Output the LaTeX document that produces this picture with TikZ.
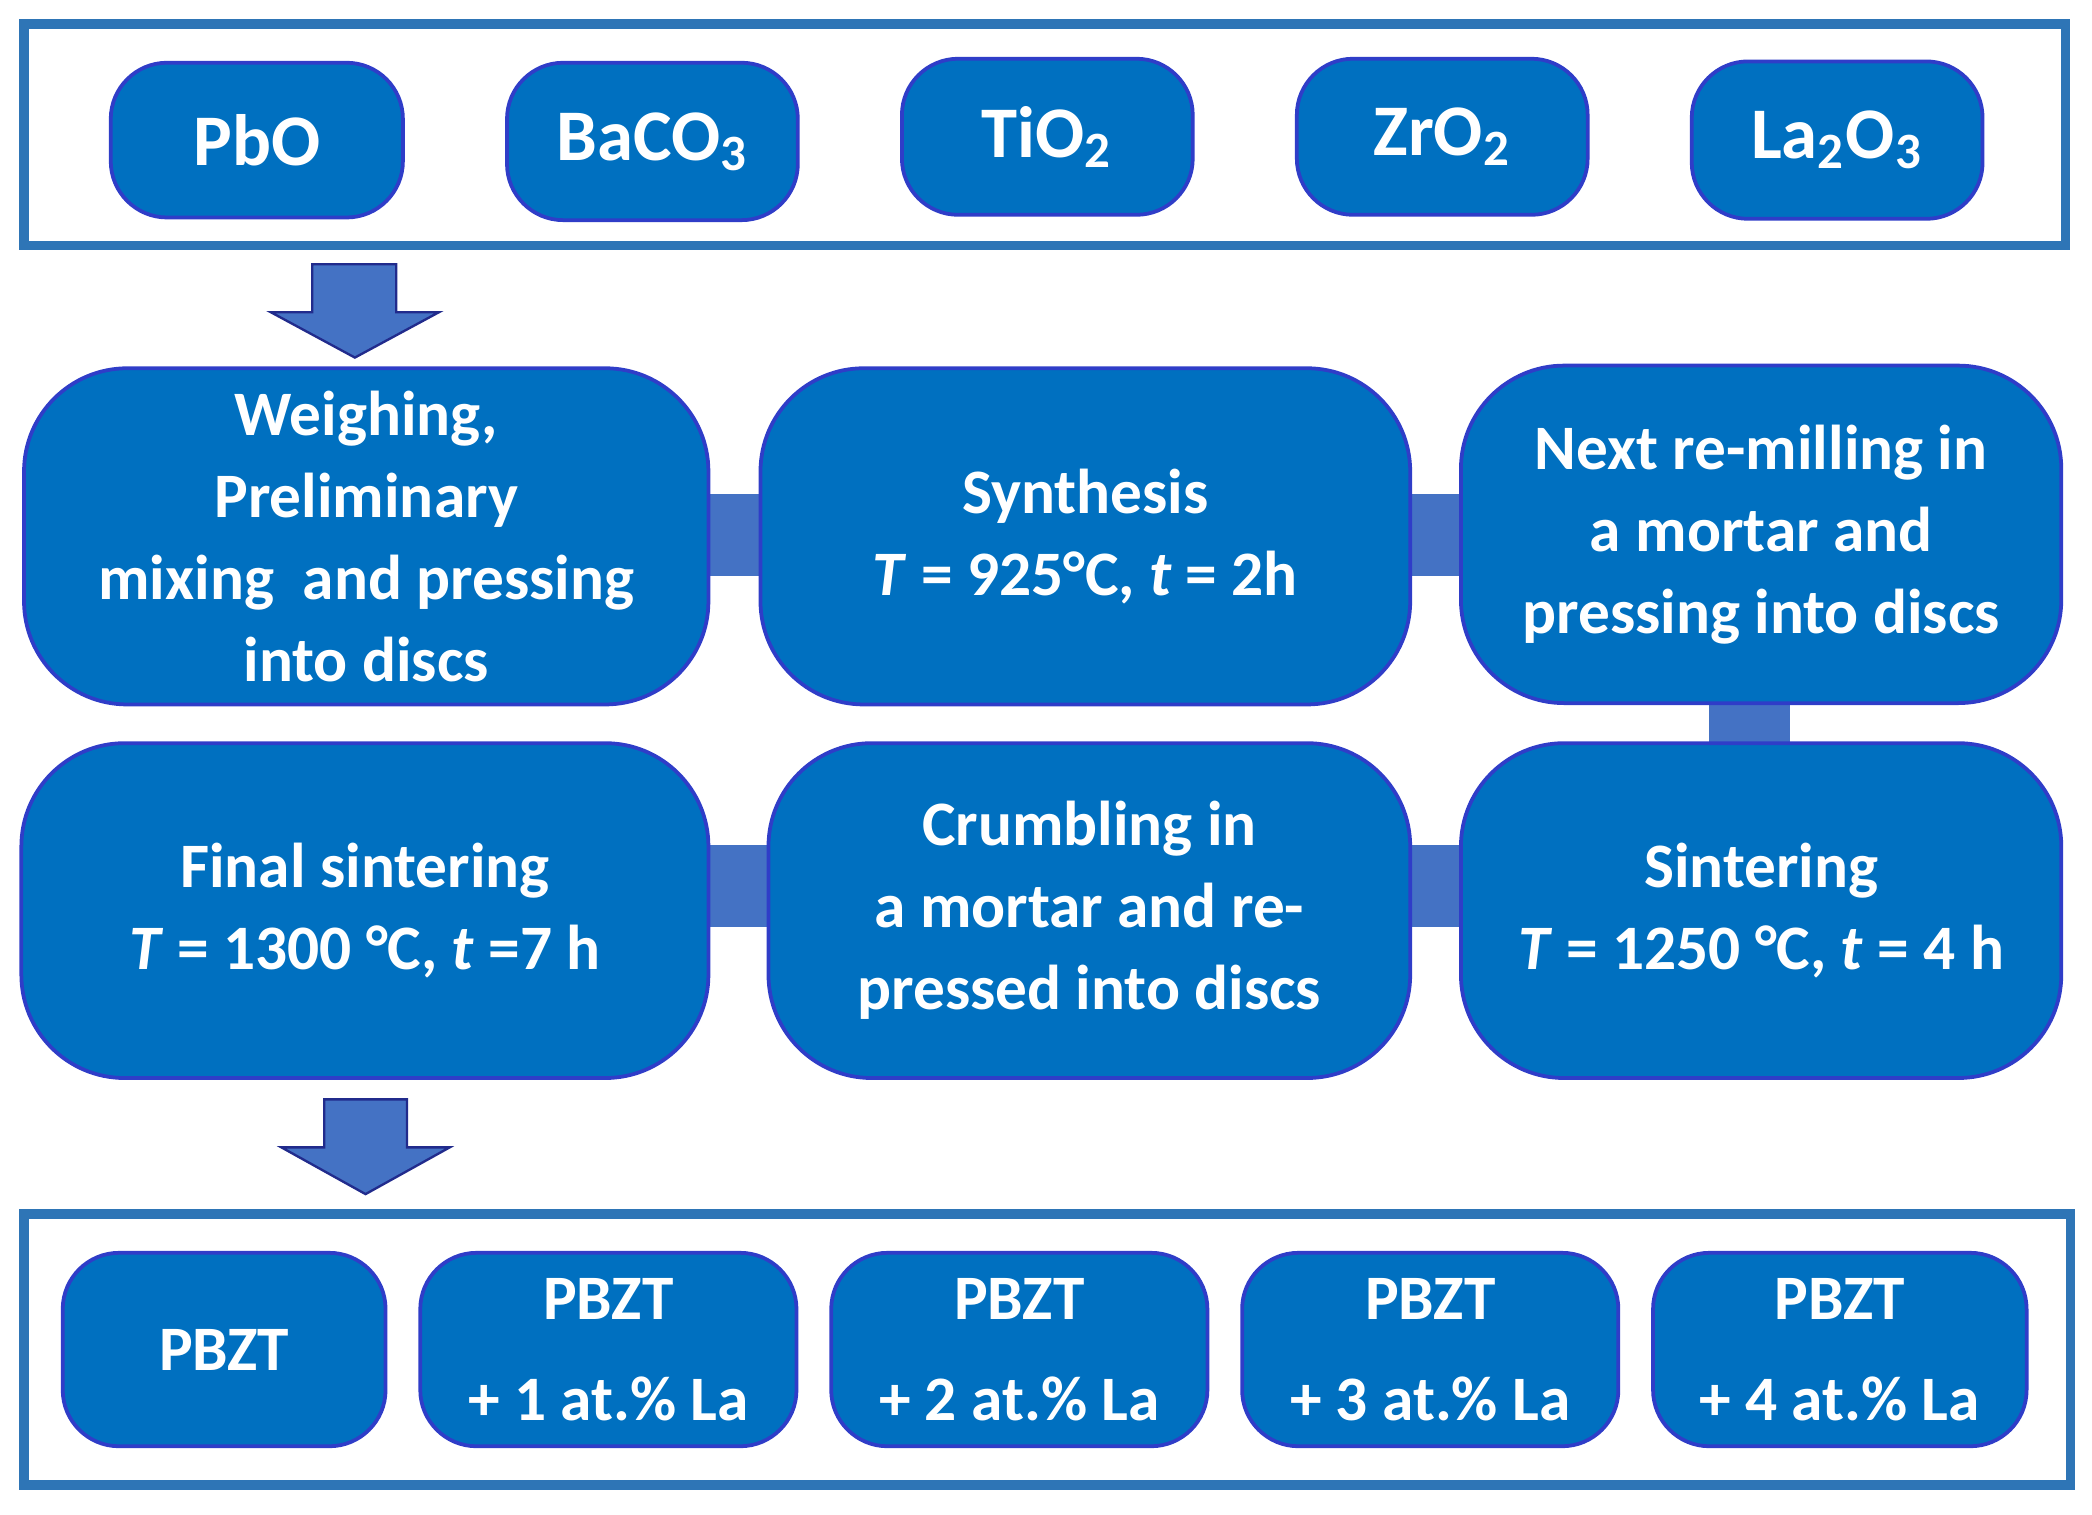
\documentclass[tikz,border=0pt]{standalone}
\usepackage{fontspec}
\setmainfont{Carlito}
\definecolor{boxblue}{HTML}{0070C0}
\definecolor{edgeblue}{HTML}{2F3DC8}
\definecolor{barblue}{HTML}{4472C4}
\definecolor{frameblue}{HTML}{2E75B6}
\begin{document}
\begin{tikzpicture}[x=0.01cm,y=-0.01cm,
  bx/.style={draw=edgeblue,line width=0.8pt,fill=boxblue,rounded corners=22pt,text=white,font=\bfseries\fontsize{13.5}{17.5}\selectfont,align=center,inner sep=0pt},
  sbx/.style={draw=edgeblue,line width=0.8pt,fill=boxblue,rounded corners=12pt,text=white,font=\bfseries\fontsize{15.5}{18}\selectfont,align=center,inner sep=0pt},
  pbx/.style={draw=edgeblue,line width=0.8pt,fill=boxblue,rounded corners=12pt,text=white,font=\bfseries\fontsize{13.5}{17.5}\selectfont,align=center,inner sep=0pt},
  bar/.style={fill=barblue,draw=none},
  frame/.style={draw=frameblue,line width=2pt,fill=white},
  bigarrow/.style={fill=barblue,draw=edgeblue!70!black,line width=0.5pt}]
\useasboundingbox (0,0) rectangle (1568,1135);
% top frame
\draw[frame] (18,18) rectangle (1548,184);
\foreach \n/\a/\b/\c/\d/\t in {pbo/83/47/302/163/PbO, baco/380/47/598/165/BaCO\textsubscript{3}, tio/676/44/894/161/TiO\textsubscript{2}, zro/972/44/1190/161/ZrO\textsubscript{2}, lao/1268/46/1486/164/La\textsubscript{2}O\textsubscript{3}}
  \node[sbx,minimum width=(\c-\a)*0.01cm,minimum height=(\d-\b)*0.01cm] (\n) at ({(\a+\c)/2},{(\b+\d)/2}) {\t};
% arrow 1
\draw[bigarrow] (234,198) -- (297,198) -- (297,234) -- (329,234) -- (266,268) -- (203,234) -- (234,234) -- cycle;
% connectors
\fill[barblue] (525,370) rectangle (576,432);
\fill[barblue] (1050,370) rectangle (1100,432);
\fill[barblue] (525,633) rectangle (582,695);
\fill[barblue] (1050,633) rectangle (1100,695);
\fill[barblue] (1281,520) rectangle (1342,565);
% row 1
\node[bx,minimum width=513*0.01cm,minimum height=252*0.01cm] (weigh) at (274.5,402) {Weighing,\\Preliminary\\mixing\ \ and pressing\\into discs};
\node[bx,minimum width=487*0.01cm,minimum height=252*0.01cm] (synth) at (813.5,402) {Synthesis\\\textit{T} = 925°C, \textit{t} = 2h};
\node[bx,minimum width=450*0.01cm,minimum height=253*0.01cm] (remill) at (1320,400.5) {Next re-milling in\\a mortar and\\pressing into discs};
% row 2
\node[bx,minimum width=515*0.01cm,minimum height=251*0.01cm] (final) at (273.5,682.5) {Final sintering\\\textit{T} = 1300 °C, \textit{t} =7 h};
\node[bx,minimum width=481*0.01cm,minimum height=251*0.01cm] (crumb) at (816.5,682.5) {Crumbling in\\a mortar and re-\\pressed into discs};
\node[bx,minimum width=450*0.01cm,minimum height=251*0.01cm] (sint) at (1320,682.5) {Sintering\\\textit{T} = 1250 °C, \textit{t} = 4 h};
% arrow 2
\draw[bigarrow] (243,824) -- (305,824) -- (305,860) -- (337,860) -- (274,895) -- (211,860) -- (243,860) -- cycle;
% bottom frame
\draw[frame] (18,910) rectangle (1552,1113);
\node[pbx,minimum width=242*0.01cm,minimum height=145*0.01cm] (p0) at (168,1011.5) {PBZT};
\node[pbx,minimum width=282*0.01cm,minimum height=145*0.01cm] (p1) at (456,1011.5) {PBZT\\[4pt]+ 1 at.\% La};
\node[pbx,minimum width=282*0.01cm,minimum height=145*0.01cm] (p2) at (764,1011.5) {PBZT\\[4pt]+ 2 at.\% La};
\node[pbx,minimum width=282*0.01cm,minimum height=145*0.01cm] (p3) at (1072,1011.5) {PBZT\\[4pt]+ 3 at.\% La};
\node[pbx,minimum width=280*0.01cm,minimum height=145*0.01cm] (p4) at (1379,1011.5) {PBZT\\[4pt]+ 4 at.\% La};
\end{tikzpicture}
\end{document}
